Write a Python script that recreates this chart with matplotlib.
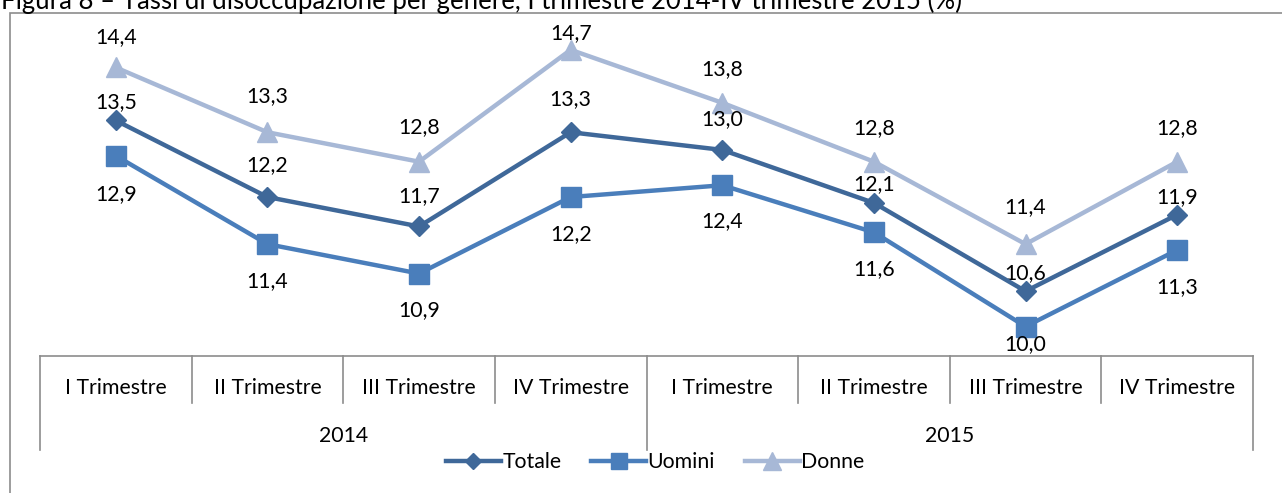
import matplotlib
matplotlib.use("Agg")
import matplotlib.pyplot as plt
from matplotlib.transforms import blended_transform_factory
from matplotlib.patches import Rectangle

quarters = ["I Trimestre", "II Trimestre", "III Trimestre", "IV Trimestre",
            "I Trimestre", "II Trimestre", "III Trimestre", "IV Trimestre"]
years = ["2014", "2015"]
totale = [13.5, 12.2, 11.7, 13.3, 13.0, 12.1, 10.6, 11.9]
uomini = [12.9, 11.4, 10.9, 12.2, 12.4, 11.6, 10.0, 11.3]
donne = [14.4, 13.3, 12.8, 14.7, 13.8, 12.8, 11.4, 12.8]
title = "Figura 8 – Tassi di disoccupazione per genere, I trimestre 2014-IV trimestre 2015 (%)"

# label offsets in pixels (style)
off_tot = [18, 32, 30, 33, 31, 19, 18, 18]
off_uom = [-38, -37, -37, -37, -36, -37, -18, -37]
off_don = [30, 36, 35, 17, 34, 34, 37, 34]

plt.rcParams['font.family'] = ['Lato', 'DejaVu Sans']
W, H = 1282, 493
fig = plt.figure(figsize=(W / 100, H / 100), dpi=100)

def fx(px):
    return px / W

def fy(py):
    return 1 - py / H

FS = 15.3

# chart frame
fig.patches.append(Rectangle((fx(10), fy(520)), fx(1300) - fx(10), fy(13) - fy(520),
                             transform=fig.transFigure, fill=False, edgecolor='#8c8c8c',
                             linewidth=1.2))
fig.text(fx(1), fy(9.5), title, fontsize=18.5, va='baseline', ha='left', color='black')

ax = fig.add_axes([fx(40), fy(356), fx(1253) - fx(40), fy(14.5) - fy(356)])
ax.set_xlim(-0.5, 7.5)
ax.set_ylim(9.5, 15.3)
ax.axis('off')

x = list(range(len(quarters)))
c_tot, c_uom, c_don = '#3F6899', '#4A7EBB', '#A7B8D6'
ax.plot(x, donne, color=c_don, lw=3.2, marker='^', ms=15, label='Donne', zorder=3, clip_on=False)
ax.plot(x, totale, color=c_tot, lw=3.2, marker='D', ms=10, label='Totale', zorder=4, clip_on=False)
ax.plot(x, uomini, color=c_uom, lw=3.2, marker='s', ms=14, label='Uomini', zorder=3, clip_on=False)

for xs, ys, offs in ((x, totale, off_tot), (x, uomini, off_uom), (x, donne, off_don)):
    for xi, yi, o in zip(xs, ys, offs):
        ax.annotate(f"{yi:.1f}".replace('.', ','), (xi, yi), xytext=(0, o),
                    textcoords='offset pixels', ha='center', va='center',
                    fontsize=FS, color='black')

# category axis
tr = blended_transform_factory(ax.transData, fig.transFigure)
axis_col = '#8c8c8c'
ax.plot([-0.5, 7.5], [fy(356), fy(356)], transform=tr, color=axis_col, lw=1.2, clip_on=False)
for b in [-0.5, 0.5, 1.5, 2.5, 3.5, 4.5, 5.5, 6.5, 7.5]:
    bottom = fy(450) if b in (-0.5, 3.5, 7.5) else fy(403)
    ax.plot([b, b], [fy(356), bottom], transform=tr, color=axis_col, lw=1.2, clip_on=False)
for xi, q in zip(x, quarters):
    ax.text(xi, fy(388), q, transform=tr, ha='center', va='center', fontsize=FS)
for i, yr in enumerate(years):
    ax.text(1.5 + 4 * i, fy(436), yr, transform=tr, ha='center', va='center', fontsize=FS)

handles, labels = ax.get_legend_handles_labels()
order = [1, 2, 0]
fig.legend([handles[i] for i in order], [labels[i] for i in order],
           loc='center', bbox_to_anchor=(fx(655), fy(462)), ncol=3, frameon=False,
           fontsize=FS, handlelength=2.6, handletextpad=0.05, columnspacing=1.4,
           markerscale=0.85)

fig.savefig('out.png', dpi=100)
